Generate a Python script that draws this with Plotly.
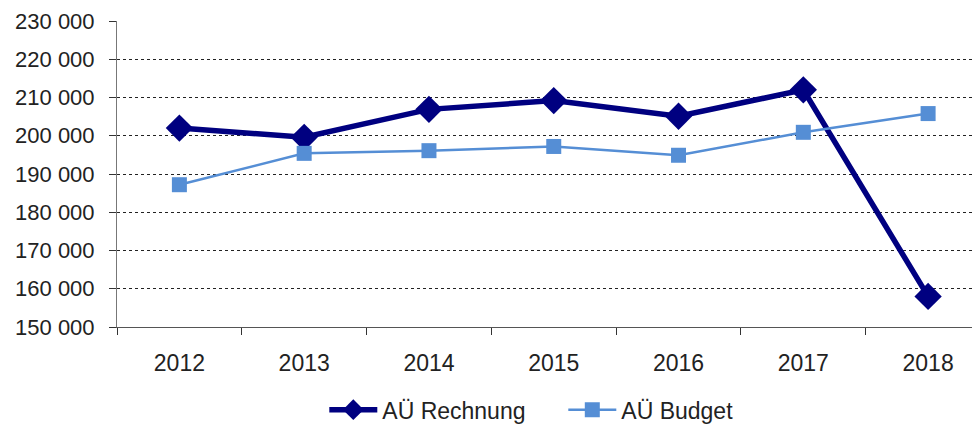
import plotly.graph_objects as go

years = ["2012", "2013", "2014", "2015", "2016", "2017", "2018"]
rechnung = [202000, 199600, 206900, 209200, 205100, 212000, 158000]
budget = [187200, 195400, 196100, 197200, 194900, 200900, 205800]
y_ticks = [150000, 160000, 170000, 180000, 190000, 200000, 210000, 220000, 230000]

NAVY = "#000080"
BLUE = "#558ED5"
FONT = dict(family="Liberation Sans, Arial, Helvetica, sans-serif", size=23, color="#222222")
YFONT = dict(FONT, size=22)

fig = go.Figure()
fig.add_trace(go.Scatter(
    x=years, y=rechnung, name="AÜ Rechnung", mode="lines+markers",
    line=dict(color=NAVY, width=5.5),
    marker=dict(symbol="diamond", size=21, color=NAVY),
))
fig.add_trace(go.Scatter(
    x=years, y=budget, name="AÜ Budget", mode="lines+markers",
    line=dict(color=BLUE, width=2.5),
    marker=dict(symbol="square", size=15, color=BLUE),
))

# page body adds 8px offset, margins compensate for it
fig.update_layout(
    width=980, height=426,
    paper_bgcolor="white", plot_bgcolor="white",
    font=FONT, separators=", ",
    margin=dict(t=13, b=107, l=109, r=0),
    showlegend=True,
    legend=dict(orientation="h", x=0.238, xanchor="left", y=-0.2, yanchor="top",
                itemwidth=48, font=FONT, traceorder="normal",
                entrywidth=176, entrywidthmode="pixels"),
    xaxis=dict(
        type="category", range=[-0.5, 6.48], tickson="boundaries",
        ticks="outside", ticklen=7, tickcolor="#333333", ticklabelstandoff=15,
        showgrid=False, showline=True, linecolor="#555555", linewidth=1,
        tickfont=FONT, zeroline=False, automargin=False,
    ),
    yaxis=dict(
        range=[150000, 230000], tickvals=y_ticks, tickformat=",d",
        ticks="outside", ticklen=7, tickcolor="#333333", ticklabelstandoff=10,
        ticklabeloverflow="allow",
        showgrid=True, gridcolor="#222222", griddash="dot", gridwidth=1,
        showline=True, linecolor="#777777", linewidth=1,
        tickfont=YFONT, zeroline=False, automargin=False,
    ),
)

fig.write_html("out.html")
